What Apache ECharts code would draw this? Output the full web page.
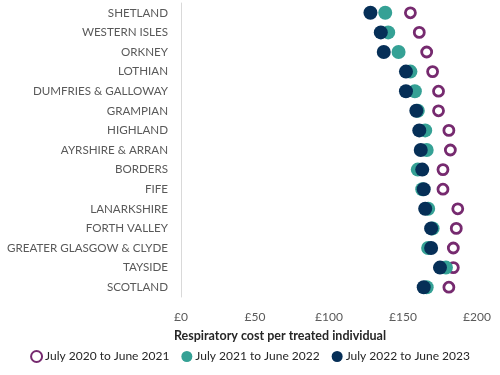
<!DOCTYPE html>
<html>
<head>
<meta charset="utf-8">
<script src="https://cdn.jsdelivr.net/npm/echarts@6/dist/echarts.min.js"></script>
<style>
  html, body { margin: 0; padding: 0; background: #fff; }
  #chart { width: 500px; height: 375px; }
</style>
</head>
<body>
<div id="chart"></div>
<script>
const regions = [
  "SHETLAND", "WESTERN ISLES", "ORKNEY", "LOTHIAN", "DUMFRIES & GALLOWAY",
  "GRAMPIAN", "HIGHLAND", "AYRSHIRE & ARRAN", "BORDERS", "FIFE",
  "LANARKSHIRE", "FORTH VALLEY", "GREATER GLASGOW & CLYDE", "TAYSIDE", "SCOTLAND",
];
const cost2021 = [155, 161, 166, 170, 174, 174, 181, 182, 177, 177, 187, 186, 184, 184, 181];
const cost2022 = [138, 140, 147, 155, 158, 160, 165, 166, 160, 163, 167, 170, 167, 179, 166];
const cost2023 = [128, 135, 137, 152, 152, 159, 161, 162, 163, 164, 165, 169, 169, 175, 164];
const xTicks = [0, 50, 100, 150, 200];

const purple = "#762a6f";
const teal = "#35a195";
const navy = "#062f57";

const chart = echarts.init(document.getElementById("chart"));
chart.setOption({
  animation: false,
  textStyle: { fontFamily: "Lato" },
  title: {
    text: "Respiratory cost per treated individual",
    left: 280,
    top: 329,
    textAlign: "center",
    padding: 0,
    textStyle: { fontSize: 12.5, fontWeight: "bold", color: "#262626", fontFamily: "Lato" },
  },
  grid: { left: 181, right: 23, top: 3, bottom: 78 },
  xAxis: {
    type: "value",
    min: xTicks[0],
    max: xTicks[xTicks.length - 1],
    interval: 50,
    axisLine: { show: false },
    axisTick: { show: false },
    splitLine: { show: false },
    axisLabel: {
      color: "#595959",
      fontSize: 12,
      margin: 14,
      formatter: (v) => "£" + v,
    },
  },
  yAxis: {
    type: "category",
    data: regions,
    inverse: true,
    axisLine: { show: true, lineStyle: { color: "#d9d9d9", width: 1 } },
    axisTick: { show: false },
    axisLabel: { color: "#595959", fontSize: 11.6, margin: 13 },
  },
  legend: {
    bottom: 7,
    left: "center",
    itemWidth: 11,
    itemHeight: 11,
    itemGap: 12,
    textStyle: { fontSize: 12, color: "#262626", padding: [0, 0, 0, -2] },
    data: [
      { name: "July 2020 to June 2021", icon: "circle" },
      { name: "July 2021 to June 2022", icon: "circle" },
      { name: "July 2022 to June 2023", icon: "circle" },
    ],
  },
  series: [
    {
      name: "July 2020 to June 2021",
      type: "scatter",
      data: cost2021,
      symbol: "circle",
      symbolSize: 10,
      itemStyle: { color: "#fff", borderColor: purple, borderWidth: 2.8, opacity: 1 },
      z: 2,
    },
    {
      name: "July 2021 to June 2022",
      type: "scatter",
      data: cost2022,
      symbolSize: 14,
      itemStyle: { color: teal, opacity: 1 },
      z: 3,
    },
    {
      name: "July 2022 to June 2023",
      type: "scatter",
      data: cost2023,
      symbolSize: 14,
      itemStyle: { color: navy, opacity: 1 },
      z: 4,
    },
  ],
});
</script>
</body>
</html>
